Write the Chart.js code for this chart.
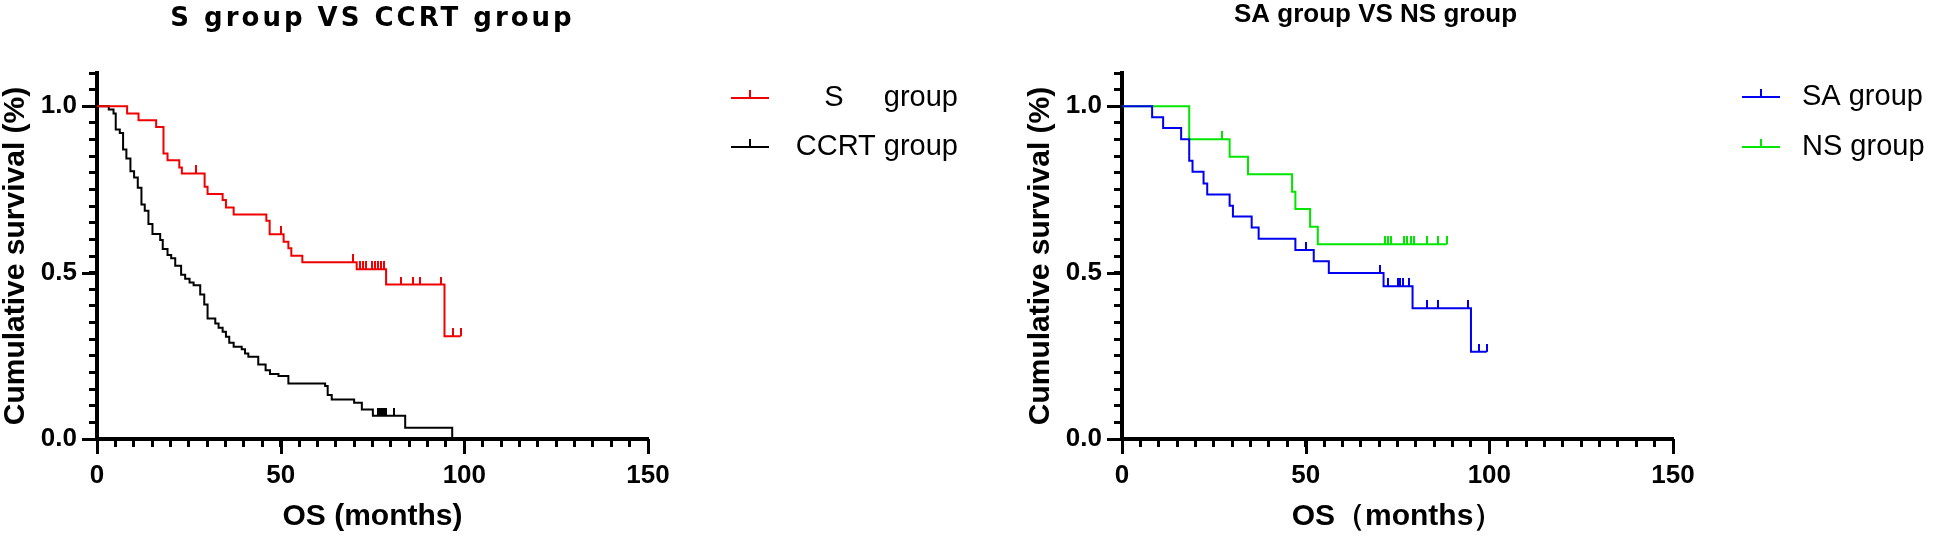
<!DOCTYPE html>
<html>
<head>
<meta charset="utf-8">
<script src="https://cdn.jsdelivr.net/npm/chart.js@4.4.0/dist/chart.umd.min.js"></script>
<style>
  html, body { margin: 0; padding: 0; background: #fff; }
  #wrap { position: relative; width: 1946px; height: 538px; overflow: hidden; }
  .panel { position: absolute; top: 0; height: 538px; }
</style>
</head>
<body>
<div id="wrap">
  <div class="panel" style="left:0;width:1025px"><canvas id="chartS" width="1025" height="538"></canvas></div>
  <div class="panel" style="left:1025px;width:921px"><canvas id="chartSA" width="921" height="538"></canvas></div>
</div>
<script>
// ---- data (months, survival after each step) ----
const sTimes = [0, 8.2, 11.3, 16.1, 18.1, 19.2, 22.4, 23.1, 29.3, 30.1, 34.2, 35.1, 37.2, 46.1, 47.0, 50.8, 52.1, 52.9, 55.9, 70.7, 78.7, 94.6, 99.0]
const sSurv = [1, 0.978, 0.958, 0.938, 0.858, 0.838, 0.816, 0.798, 0.758, 0.736, 0.718, 0.696, 0.675, 0.656, 0.615, 0.593, 0.573, 0.551, 0.531, 0.510, 0.464, 0.309, 0.309]
const sCensored = [27.0, 50.0, 69.8, 71.5, 72.4, 73.3, 74.8, 75.6, 76.4, 77.2, 78.0, 82.7, 85.9, 87.8, 93.6, 96.8, 99.0]

const ccrtTimes = [0, 3.2, 4.5, 5.1, 6.2, 7.1, 8.0, 9.1, 10.1, 11.1, 12.1, 13.0, 14.0, 15.1, 17.2, 17.9, 19.2, 20.2, 21.3, 22.9, 24.0, 25.2, 26.3, 28.1, 29.2, 30.1, 32.2, 33.1, 34.2, 35.1, 36.0, 37.2, 39.4, 40.3, 41.2, 43.9, 45.9, 47.1, 49.4, 52.1, 62.1, 62.8, 63.9, 70.0, 72.1, 75.1, 83.9, 96.7]
const ccrtSurv = [1, 0.990, 0.978, 0.930, 0.920, 0.870, 0.843, 0.805, 0.786, 0.755, 0.705, 0.686, 0.646, 0.616, 0.598, 0.571, 0.553, 0.543, 0.521, 0.494, 0.482, 0.470, 0.462, 0.434, 0.404, 0.362, 0.347, 0.334, 0.322, 0.307, 0.289, 0.277, 0.270, 0.257, 0.247, 0.224, 0.207, 0.195, 0.189, 0.167, 0.159, 0.132, 0.119, 0.109, 0.089, 0.070, 0.034, 0]
const ccrtCensored = [76.4, 77.0, 77.6, 78.2, 78.8, 80.9]

const saTimes = [0, 8.2, 11.2, 16.1, 18.3, 19.2, 22.2, 23.2, 29.3, 30.2, 35.3, 37.2, 47.2, 52.2, 56.3, 71.2, 79.1, 95.0, 99.3]
const saSurv = [1, 0.967, 0.935, 0.901, 0.836, 0.803, 0.768, 0.735, 0.701, 0.669, 0.636, 0.602, 0.568, 0.534, 0.499, 0.459, 0.393, 0.262, 0.262]
const saCensored = [50.1, 70.3, 72.3, 75.0, 75.7, 76.4, 78.2, 83.1, 86.1, 94.1, 97.2, 99.3]

const nsTimes = [0, 18.3, 29.3, 34.3, 46.3, 47.2, 51.2, 53.3, 88.4]
const nsSurv = [1, 0.901, 0.848, 0.796, 0.743, 0.691, 0.638, 0.585, 0.585]
const nsCensored = [27.2, 71.5, 72.4, 73.3, 76.8, 77.7, 78.6, 79.5, 82.9, 85.9, 88.4]

// tick labels
const xLabels = [0, 50, 100, 150]
const yLabels = [0, 0.5, 1.0]

const FONT = '"Liberation Sans", Arial, sans-serif'

// survival value at time t (step function)
function stepValue(times, surv, t) {
  let v = surv[0]
  for (let i = 0; i < times.length; i++) if (times[i] <= t) v = surv[i]
  return v
}

// small upward tick used for censored marks
function tickImage(color) {
  const c = document.createElement('canvas')
  c.width = 2
  c.height = 16
  const g = c.getContext('2d')
  g.fillStyle = color
  g.fillRect(0, 0, 2, 8)
  return c
}

function groupSets(label, color, times, surv, cens) {
  return [
    {
      label: label,
      data: times.map((t, i) => ({ x: t, y: surv[i] })),
      borderColor: color,
      borderWidth: 2,
      stepped: true,
      pointRadius: 0,
      fill: false
    },
    {
      label: label + ' censored',
      data: cens.map(t => ({ x: t, y: stepValue(times, surv, t) })),
      showLine: false,
      pointStyle: tickImage(color),
      pointRadius: 4,
      isCensor: true
    }
  ]
}

const isMajor = (v, list) => list.some(m => Math.abs(m - v) < 1e-6)

// titles, legend and longer major ticks
const kmDecor = {
  id: 'kmDecor',
  afterDraw(chart, args, opts) {
    const { ctx, chartArea: a } = chart
    const x = chart.scales.x, y = chart.scales.y
    ctx.save()
    ctx.strokeStyle = '#000'
    ctx.lineWidth = 3
    xLabels.forEach(v => {
      const px = Math.round(x.getPixelForValue(v)) + 0.5
      ctx.beginPath(); ctx.moveTo(px, a.bottom); ctx.lineTo(px, a.bottom + 15); ctx.stroke()
    })
    yLabels.forEach(v => {
      const py = Math.round(y.getPixelForValue(v)) + 0.5
      ctx.beginPath(); ctx.moveTo(a.left, py); ctx.lineTo(a.left - 15, py); ctx.stroke()
    })

    // title
    ctx.fillStyle = '#000'
    ctx.font = opts.titleFont
    ctx.letterSpacing = opts.spacing
    ctx.textAlign = 'center'
    ctx.textBaseline = 'middle'
    ctx.fillText(opts.title, (a.left + a.right) / 2 + opts.titleDx, opts.titleY)
    ctx.letterSpacing = '0px'

    // legend
    ctx.font = '29px ' + FONT
    ctx.textAlign = opts.legendAlign
    const lines = chart.data.datasets.filter(d => !d.isCensor)
    lines.forEach((d, i) => {
      const ly = opts.legendY[i]
      const lx = a.right + opts.legendLineDx
      ctx.strokeStyle = d.borderColor
      ctx.lineWidth = 2
      ctx.beginPath(); ctx.moveTo(lx, ly); ctx.lineTo(lx + 38, ly); ctx.stroke()
      ctx.beginPath(); ctx.moveTo(lx + 19, ly); ctx.lineTo(lx + 19, ly - 8); ctx.stroke()
      ctx.fillStyle = '#000'
      ctx.fillText(d.legendText, a.right + opts.legendTextDx, ly)
    })
    ctx.restore()
  }
}

function makeChart(id, width, datasets, xTitle, decor) {
  const tickFont = { family: FONT, size: 26, weight: 'bold' }
  const titleFont = { family: FONT, size: 30, weight: 'bold', lineHeight: 1 }
  return new Chart(document.getElementById(id), {
    type: 'line',
    data: { datasets: datasets },
    plugins: [kmDecor],
    options: {
      responsive: false,
      animation: false,
      layout: { padding: { left: 0, right: width - 648, top: 73, bottom: 0 } },
      plugins: {
        legend: { display: false },
        tooltip: { enabled: false },
        kmDecor: decor
      },
      scales: {
        x: {
          type: 'linear',
          min: 0,
          max: 150,
          afterFit: s => { s.height = 99 },
          border: { display: true, color: '#000', width: 4 },
          grid: { drawOnChartArea: false, drawTicks: true, tickLength: 8, tickWidth: 3, tickColor: '#000' },
          ticks: {
            stepSize: 5,
            autoSkip: false,
            maxRotation: 0,
            padding: 13,
            color: '#000',
            font: tickFont,
            callback: v => isMajor(v, xLabels) ? String(Math.round(v)) : ''
          },
          title: { display: true, text: xTitle, color: '#000', font: titleFont, padding: { top: 0, bottom: 6 } }
        },
        y: {
          min: 0,
          max: 1.1,
          afterFit: s => { s.width = 97 },
          border: { display: true, color: '#000', width: 4 },
          grid: { drawOnChartArea: false, drawTicks: true, tickLength: 8, tickWidth: 3, tickColor: '#000' },
          ticks: {
            stepSize: 0.05,
            autoSkip: false,
            padding: 12,
            color: '#000',
            font: tickFont,
            callback: v => isMajor(v, yLabels) ? v.toFixed(1) : ''
          },
          title: { display: true, text: 'Cumulative survival (%)', color: '#000', font: titleFont, padding: { top: 1, bottom: 0 } }
        }
      }
    }
  })
}

const leftSets = [
  ...groupSets('S group', '#f00000', sTimes, sSurv, sCensored),
  ...groupSets('CCRT group', '#000000', ccrtTimes, ccrtSurv, ccrtCensored)
]
leftSets[0].legendText = 'S     group'
leftSets[2].legendText = 'CCRT group'

const rightSets = [
  ...groupSets('SA group', '#0000ee', saTimes, saSurv, saCensored),
  ...groupSets('NS group', '#00e600', nsTimes, nsSurv, nsCensored)
]
rightSets[0].legendText = 'SA group'
rightSets[2].legendText = 'NS group'

makeChart('chartS', 1025, leftSets, 'OS (months)', {
  title: 'S group VS CCRT group', titleFont: 'bold 26px "DejaVu Sans", sans-serif',
  titleDx: 0, titleY: 19, spacing: '3px',
  legendY: [98, 147], legendLineDx: 83, legendTextDx: 310, legendAlign: 'right'
})

makeChart('chartSA', 921, rightSets, 'OS（months）', {
  title: 'SA group VS NS group', titleFont: 'bold 26px ' + FONT,
  titleDx: -22, titleY: 15, spacing: '0px',
  legendY: [97, 147], legendLineDx: 69, legendTextDx: 129, legendAlign: 'left'
})
</script>
</body>
</html>
